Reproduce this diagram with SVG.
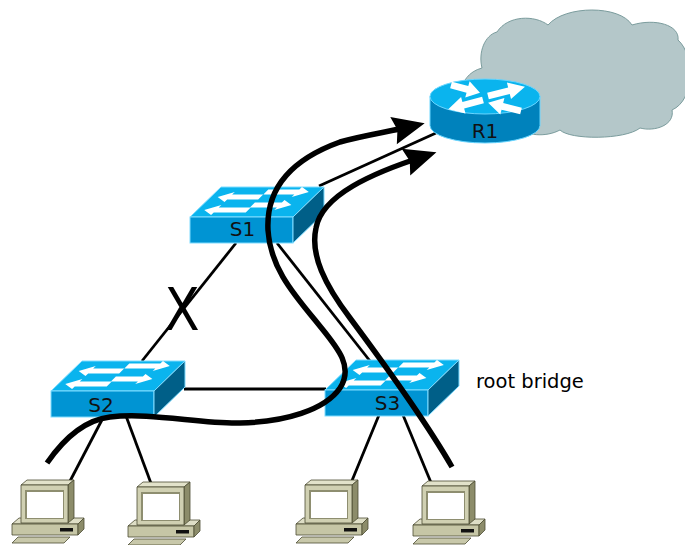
<svg xmlns="http://www.w3.org/2000/svg" xmlns:xlink="http://www.w3.org/1999/xlink" width="685" height="545" viewBox="0 0 685 545">
  <style>
    .link { stroke: #000; stroke-width: 2.8; fill: none; }
    .flow { stroke: #000; stroke-width: 5.5; fill: none; marker-end: url(#ah); }
    .lbl { font-family: "DejaVu Sans", "Liberation Sans", sans-serif; font-size: 20px; fill: #111; text-anchor: middle; }
    .note { font-family: "DejaVu Sans", "Liberation Sans", sans-serif; font-size: 19.5px; fill: #000; }
    .sw-top { fill: #0ab4ee; stroke: #7fdcff; stroke-width: 1; stroke-linejoin: round; }
    .sw-front { fill: #0094d3; stroke: #7fdcff; stroke-width: 1; }
    .sw-side { fill: #005f88; stroke: #7fdcff; stroke-width: 1; stroke-linejoin: round; }
    .wa { fill: #fff; }
    .pc-edge { stroke: #4d4d33; stroke-width: 0.8; stroke-linejoin: round; }
  </style>
  <defs>
    <marker id="ah" markerUnits="userSpaceOnUse" viewBox="-25 -16 40 32" markerWidth="40" markerHeight="32" refX="0" refY="0" orient="auto" overflow="visible">
      <path d="M12,0 L-20,-14 L-16,0 L-20,14 Z" fill="#000"/>
    </marker>
    <!-- generic arrow pointing +x, 30 long -->
    <path id="rarrow" d="M0,-3.4 L17,-3.4 L17,-8.5 L30,0 L17,8.5 L17,3.4 L0,3.4 Z"/>
    <!-- workgroup switch, origin at front-face top-left -->
    <g id="switch">
      <polygon class="sw-top" points="0,0 31,-30 134,-30 103,0"/>
      <rect class="sw-front" x="0" y="0" width="103" height="26"/>
      <polygon class="sw-side" points="103,0 134,-30 134,-4 103,26"/>
      <!-- arrows lying on the top face: (u, depth) plane -->
      <g class="wa" transform="matrix(1,0,1.033,-1,0,0)">
        <path d="M50,17.6 H19 V15 L7,20 L19,25 V22.4 H50 Z"/>
        <path d="M50,22.6 H81 V20 L93,25 L81,30 V27.4 H50 Z"/>
        <path d="M51,4.6 H19 V2 L7,7 L19,12 V9.4 H51 Z"/>
        <path d="M50,9.6 H77 V7 L89,12 L77,17 V14.4 H50 Z"/>
      </g>
    </g>
    <!-- desktop PC, origin at monitor front top-left -->
    <g id="pc">
      <polygon class="pc-edge" points="-9,39 -2,33 63,33 57,39" fill="#dedec6"/>
      <rect class="pc-edge" x="-9" y="39" width="66" height="11" fill="#c6c6a6"/>
      <polygon class="pc-edge" points="57,39 63,33 63,44 57,50" fill="#8c8c6a"/>
      <rect x="39" y="43" width="13" height="3.5" fill="#111"/>
      <polygon class="pc-edge" points="-3,52 49,52 43,58 -9,58" fill="#c8c8aa"/>
      <polygon class="pc-edge" points="0,0 6,-5 53,-5 47,0" fill="#e2e2ca"/>
      <polygon class="pc-edge" points="47,0 53,-5 53,33 47,38" fill="#8c8c6a"/>
      <rect class="pc-edge" x="0" y="0" width="47" height="38" fill="#d0d0b2"/>
      <rect x="4" y="5" width="39" height="29" fill="#8e8e70"/>
      <rect x="6" y="7" width="36" height="26" fill="#fff"/>
    </g>
  </defs>

  <!-- WAN cloud -->
  <g id="cloud">
    <path d="M475,118 C455,110 455,75 482,68 C478,52 485,35 497,32 C508,15 535,15 548,25 C565,5 620,5 632,25 C655,18 680,25 678,40 C695,55 695,100 672,110 C675,125 655,132 640,128 C625,140 570,140 560,130 C545,138 525,135 520,128 Z" fill="#b4c7c9" stroke="#7b9c9d" stroke-width="1"/>
  </g>

  <!-- cabling -->
  <g id="links">
    <line class="link" x1="319" y1="186" x2="436" y2="133"/>
    <line class="link" x1="236" y1="243" x2="142" y2="361"/>
    <line class="link" x1="277" y1="243" x2="370" y2="361"/>
    <line class="link" x1="184" y1="389" x2="326" y2="389"/>
    <line class="link" x1="104" y1="416" x2="69" y2="483"/>
    <line class="link" x1="126" y1="416" x2="152" y2="486"/>
    <line class="link" x1="379" y1="415" x2="351" y2="483"/>
    <line class="link" x1="403" y1="415" x2="432" y2="485"/>
  </g>

  <!-- blocked port -->
  <text x="0" y="0" transform="translate(182,330) scale(0.87,1)" font-family="DejaVu Sans, Liberation Sans, sans-serif" font-size="59" text-anchor="middle" fill="#000">X</text>

  <!-- router -->
  <g id="R1">
    <path d="M430,96.5 V125.5 A55,17.5 0 0 0 540,125.5 V96.5 Z" fill="#0082bc" stroke="#6ad6ff" stroke-width="1"/>
    <ellipse cx="485" cy="96.5" rx="55" ry="17.5" fill="#0ab4ee" stroke="#6ad6ff" stroke-width="1"/>
    <g class="wa">
      <use xlink:href="#rarrow" transform="translate(451,85) rotate(15) scale(1.0,1)"/>
      <use xlink:href="#rarrow" transform="translate(488,96) rotate(-14) scale(1.27,1)"/>
      <use xlink:href="#rarrow" transform="translate(483,100) rotate(165) scale(1.2,1)"/>
      <use xlink:href="#rarrow" transform="translate(521,111) rotate(194) scale(1.13,1)"/>
    </g>
    <text class="lbl" x="485" y="137.5">R1</text>
  </g>

  <g id="S1">
    <use xlink:href="#switch" transform="translate(190,217)"/>
    <text class="lbl" x="242.5" y="236">S1</text>
  </g>
  <g id="S2">
    <use xlink:href="#switch" transform="translate(51,391)"/>
    <text class="lbl" x="101" y="411.5">S2</text>
  </g>
  <g id="S3">
    <use xlink:href="#switch" transform="translate(325,390)"/>
    <text class="lbl" x="387.5" y="410">S3</text>
  </g>
  <text class="note" x="476" y="388">root bridge</text>

  <g id="PC1"><use xlink:href="#pc" transform="translate(21,485)"/></g>
  <g id="PC2"><use xlink:href="#pc" transform="translate(137,487)"/></g>
  <g id="PC3"><use xlink:href="#pc" transform="translate(305,485)"/></g>
  <g id="PC4"><use xlink:href="#pc" transform="translate(422,486)"/></g>

  <!-- traffic paths towards R1 -->
  <g id="paths">
    <path class="flow" d="M47,463 C65,437 85,420 110,417 C150,412 200,424 240,423 C285,422 325,410 340,388 C355,365 335,345 315,320 C290,290 270,265 268,230 C266,190 290,160 340,142 C365,135 388,132 413,126"/>
    <path class="flow" d="M452,467 C425,420 385,365 350,318 C325,285 310,255 316,228 C322,195 372,173 425,156"/>
  </g>
</svg>
